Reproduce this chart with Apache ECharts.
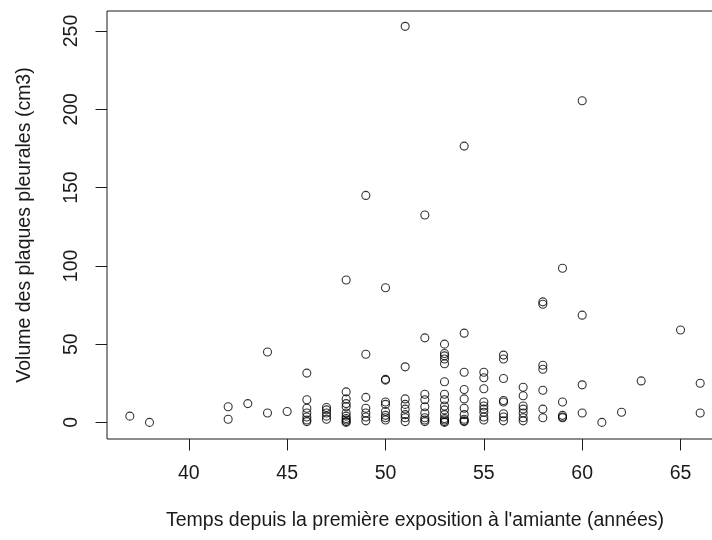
<!DOCTYPE html>
<html>
<head>
<meta charset="utf-8">
<script src="https://cdn.jsdelivr.net/npm/echarts@6/dist/echarts.min.js"></script>
<style>
html,body{margin:0;padding:0;background:#fff;}
#chart{width:712px;height:540px;}
</style>
</head>
<body>
<div id="chart"></div>
<script>
// Years since first asbestos exposure (x) and pleural plaque volumes (y, cm3) per year
const years = [37,38,42,43,44,45,46,47,48,49,50,51,52,53,54,55,56,57,58,59,60,61,62,63,65,66];
const volumesByYear = [
  [4],
  [0],
  [10,2],
  [12],
  [45,6],
  [7],
  [31.5,14.5,9,6,3.5,1.5,0.5],
  [9.5,8,6,4,2],
  [91,19.5,15,12,10,6,4,2.5,1.5,0.5,0],
  [145,43.5,16,9,6,3.5,1],
  [86,27.5,27,13,11.5,7,4.5,3,1.5],
  [253,35.5,15,11.5,8.5,5,3,0.5],
  [132.5,54,18,14.5,10,6,3,1.5,0.5],
  [50,44,42.5,40.5,37.5,26,18,14.5,10.5,8,5,2.5,1.5,0.5,0],
  [176.5,57,32,21,15,9,5,2,1,0.5],
  [32,28.5,21.5,13,10.5,8.5,6.5,3.5,1.5],
  [43,40.5,28,14,13,5.5,3.5,1],
  [22.5,17,10.5,8.5,6,3,1],
  [77,75.5,36.5,34,20.5,8.5,3],
  [98.5,13,4.5,3.5,3],
  [205.5,68.5,24,6],
  [0],
  [6.5],
  [26.5],
  [59],
  [25,6]
];
const xTicks = [40,45,50,55,60,65];
const yTicks = [0,50,100,150,200,250];
const xTitle = "Temps depuis la première exposition à l'amiante (années)";
const yTitle = "Volume des plaques pleurales (cm3)";

const points = [];
years.forEach((yr, i) => volumesByYear[i].forEach(v => points.push([yr, v])));

const FONT = "'Liberation Sans', Arial, sans-serif";
const FS = 19.5;
const ink = '#1a1a1a';

const chart = echarts.init(document.getElementById('chart'), null, {renderer: 'canvas'});
chart.setOption({
  animation: false,
  backgroundColor: '#ffffff',
  grid: {
    left: 107, top: 11, width: 616, height: 428,
    show: true, borderColor: ink, borderWidth: 1, backgroundColor: 'transparent',
    containLabel: false, outerBoundsMode: 'none'
  },
  xAxis: {
    type: 'value', min: 35.84, max: 67.16, position: 'bottom',
    name: xTitle, nameLocation: 'middle', nameGap: 82,
    nameTextStyle: {fontFamily: FONT, fontSize: FS, color: ink, verticalAlign: 'middle'},
    axisLine: {show: false, onZero: false},
    axisTick: {show: true, inside: false, length: 11.5, customValues: xTicks, lineStyle: {color: ink, width: 1}},
    axisLabel: {show: true, customValues: xTicks, margin: 35, verticalAlign: 'middle', align: 'center',
      fontFamily: FONT, fontSize: FS, color: ink, hideOverlap: false, showMinLabel: true, showMaxLabel: true},
    splitLine: {show: false}
  },
  yAxis: {
    type: 'value', min: -10.6, max: 262.8, position: 'left',
    name: yTitle, nameLocation: 'middle', nameGap: 82, nameRotate: 90,
    nameTextStyle: {fontFamily: FONT, fontSize: FS, color: ink, verticalAlign: 'middle', align: 'center'},
    axisLine: {show: false, onZero: false},
    axisTick: {show: true, inside: false, length: 11.5, customValues: yTicks, lineStyle: {color: ink, width: 1}},
    axisLabel: {show: true, customValues: yTicks, rotate: 90, margin: 35, verticalAlign: 'middle', align: 'center',
      fontFamily: FONT, fontSize: FS, color: ink, hideOverlap: false, showMinLabel: true, showMaxLabel: true},
    splitLine: {show: false}
  },
  series: [{
    type: 'scatter',
    data: points,
    symbol: 'circle',
    symbolSize: 8,
    itemStyle: {color: 'rgba(0,0,0,0)', borderColor: '#000', borderWidth: 1.1},
    emphasis: {disabled: true},
    silent: true
  }]
});
</script>
</body>
</html>
